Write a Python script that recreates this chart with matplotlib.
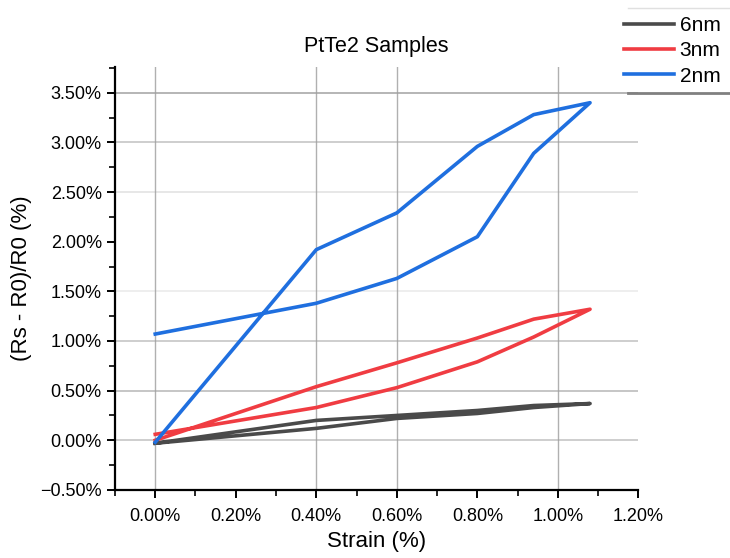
import numpy as np
import matplotlib.pyplot as plt
from matplotlib.ticker import MultipleLocator, FuncFormatter
from matplotlib.lines import Line2D

plt.rcParams['font.family'] = ['Liberation Sans', 'DejaVu Sans']

# strain (%) and (Rs-R0)/R0 (%), one loop per sample
strain_6nm = [0.0, 0.4, 0.6, 0.8, 0.94, 1.08, 0.94, 0.8, 0.6, 0.4, 0.0]
resp_6nm = [-0.03, 0.12, 0.22, 0.27, 0.33, 0.37, 0.35, 0.30, 0.25, 0.20, -0.03]

strain_3nm = [0.0, 0.4, 0.6, 0.8, 0.94, 1.08, 0.94, 0.8, 0.6, 0.4, 0.0]
resp_3nm = [0.06, 0.33, 0.53, 0.79, 1.04, 1.32, 1.22, 1.03, 0.78, 0.54, 0.0]

strain_2nm = [0.0, 0.4, 0.6, 0.8, 0.94, 1.08, 0.94, 0.8, 0.6, 0.4, 0.0]
resp_2nm = [1.07, 1.38, 1.63, 2.05, 2.89, 3.40, 3.28, 2.96, 2.29, 1.92, -0.02]

labels = ['6nm', '3nm', '2nm']
colors = ['#4a4a4a', '#f03c42', '#1f6fdf']

fig = plt.figure(figsize=(7.3, 5.58), dpi=100)
ax = fig.add_axes([0.1575, 0.122, 0.717, 0.758])

# grid lines as they appear in the original (not every tick has one)
for gx in [0.0, 0.4, 0.6, 1.0]:
    ax.axvline(gx, color='#b0b0b0', lw=1.0, zorder=0)
for gy, a in [(3.5, 0.9), (3.0, 0.6), (2.5, 0.3), (1.5, 0.2), (1.0, 0.6), (0.5, 0.7), (0.0, 0.6)]:
    ax.axhline(gy, color='#a0a0a0', lw=1.2, alpha=a, zorder=0)

hs = []
for x, y, lab, c in zip([strain_6nm, strain_3nm, strain_2nm],
                        [resp_6nm, resp_3nm, resp_2nm], labels, colors):
    h, = ax.plot(x, y, color=c, lw=2.6, label=lab, solid_joinstyle='round')
    hs.append(h)

ax.set_xlim(-0.1, 1.2)
ax.set_ylim(-0.5, 3.76)
ax.xaxis.set_major_locator(MultipleLocator(0.2))
ax.xaxis.set_minor_locator(MultipleLocator(0.1))
ax.yaxis.set_major_locator(MultipleLocator(0.5))
ax.yaxis.set_minor_locator(MultipleLocator(0.25))

def pct(v, pos):
    s = '{:.2f}%'.format(abs(v))
    return '\u2212' + s if v < -1e-9 else s

ax.xaxis.set_major_formatter(FuncFormatter(pct))
ax.yaxis.set_major_formatter(FuncFormatter(pct))

for s in ['top', 'right']:
    ax.spines[s].set_visible(False)
for s in ['left', 'bottom']:
    ax.spines[s].set_linewidth(1.6)
ax.tick_params(which='major', direction='out', length=6, width=1.4, labelsize=13, colors='black')
ax.tick_params(which='minor', direction='out', length=4, width=1.2)
ax.tick_params(axis='x', pad=7)

ax.set_xlabel('Strain (%)', fontsize=16, labelpad=4)
ax.set_ylabel('(Rs - R0)/R0 (%)', fontsize=16, labelpad=6)
ax.set_title('PtTe2 Samples', fontsize=15.5, pad=11)

fig.legend(handles=hs, labels=labels, loc='upper right', bbox_to_anchor=(1.0, 0.988),
           frameon=False, fontsize=15, handlelength=2.4, handletextpad=0.3,
           labelspacing=0.3, borderaxespad=0.15, borderpad=0.3)
fig.add_artist(Line2D([628 / 730, 1.0], [1 - 93 / 558, 1 - 93 / 558],
                      color='#808080', lw=2.0, transform=fig.transFigure))
fig.add_artist(Line2D([628 / 730, 1.0], [1 - 8 / 558, 1 - 8 / 558],
                      color='#e0e0e0', lw=1.0, transform=fig.transFigure))

fig.savefig('out.png', dpi=100)
